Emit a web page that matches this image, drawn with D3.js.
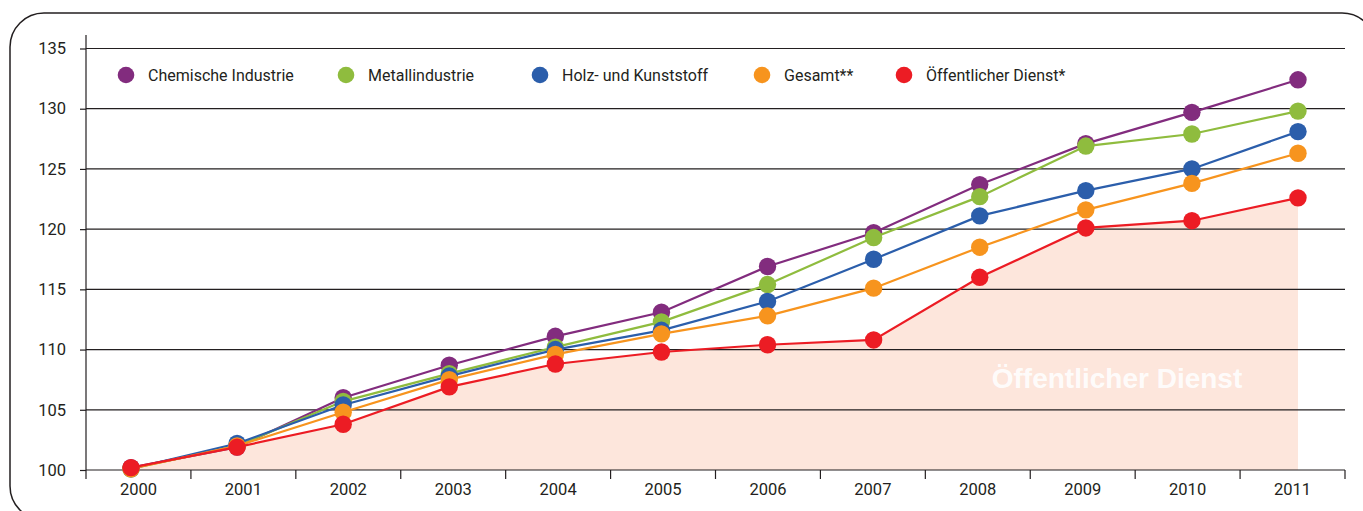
<!DOCTYPE html>
<html>
<head>
<meta charset="utf-8">
<script src="https://cdn.jsdelivr.net/npm/d3@7"></script>
<style>
  body { margin: 0; background: #fff; }
  text { font-family: Roboto, "Liberation Sans", sans-serif; fill: #231f20; }
</style>
</head>
<body>
<div id="chart"></div>
<script>
// chart size
var svgWidth = 1363;
var svgHeight = 511;

// data
var years = ["2000", "2001", "2002", "2003", "2004", "2005", "2006", "2007", "2008", "2009", "2010", "2011"];
var seriesNames = ["Chemische Industrie", "Metallindustrie", "Holz- und Kunststoff", "Gesamt**", "Öffentlicher Dienst*"];
var chemie = [100.2, 101.9, 106.0, 108.7, 111.1, 113.1, 116.9, 119.7, 123.7, 127.1, 129.7, 132.4];
var metall = [100.1, 102.0, 105.7, 108.0, 110.2, 112.3, 115.4, 119.3, 122.7, 126.9, 127.9, 129.8];
var holz = [100.1, 102.2, 105.4, 107.8, 110.0, 111.6, 114.0, 117.5, 121.1, 123.2, 125.0, 128.1];
var gesamt = [100.1, 102.0, 104.8, 107.5, 109.6, 111.3, 112.8, 115.1, 118.5, 121.6, 123.8, 126.3];
var oeffentlich = [100.2, 101.9, 103.8, 106.9, 108.8, 109.8, 110.4, 110.8, 116.0, 120.1, 120.7, 122.6];
var yTicks = [100, 105, 110, 115, 120, 125, 130, 135];
var areaLabel = "Öffentlicher Dienst";

var colors = ["#822c7e", "#8fbc3e", "#2b5eab", "#f7941e", "#ec1c24"];
var seriesValues = [chemie, metall, holz, gesamt, oeffentlich];

var svg = d3.select("#chart")
  .append("svg")
  .attr("width", svgWidth)
  .attr("height", svgHeight);

// rounded frame
svg.append("rect")
  .attr("x", 10)
  .attr("y", 13)
  .attr("width", 1366)
  .attr("height", 507)
  .attr("rx", 34)
  .attr("fill", "none")
  .attr("stroke", "#231f20")
  .attr("stroke-width", 1.5);

// scales
var xBand = d3.scaleBand()
  .domain(years)
  .range([86, 1345]);

var xPoint = d3.scalePoint()
  .domain(years)
  .range([131, 1298]);

var yScale = d3.scaleLinear()
  .domain([100, 135])
  .range([470, 48.5]);

// area under the public service line
var area = d3.area()
  .x((d, i) => xPoint(years[i]))
  .y0(yScale(100))
  .y1(d => yScale(d));

svg.append("path")
  .datum(oeffentlich)
  .attr("d", area)
  .attr("fill", "#fde6dc");

svg.append("text")
  .attr("x", 1117)
  .attr("y", 388)
  .attr("text-anchor", "middle")
  .style("font-family", "'Liberation Sans', sans-serif")
  .style("font-weight", "bold")
  .style("font-size", "28px")
  .style("fill", "#ffffff")
  .style("fill-opacity", 0.9)
  .text(areaLabel);

// gridlines
svg.append("g")
  .selectAll("line")
  .data(yTicks)
  .enter()
  .append("line")
  .attr("x1", 86)
  .attr("x2", 1345)
  .attr("y1", d => yScale(d))
  .attr("y2", d => yScale(d))
  .attr("stroke", "#231f20")
  .attr("stroke-width", 1.2);

// y axis
var leftAxis = d3.axisLeft(yScale)
  .tickValues(yTicks)
  .tickSize(6)
  .tickPadding(14);

var yAxisG = svg.append("g")
  .attr("transform", "translate(86,0)")
  .call(leftAxis);
yAxisG.select(".domain").remove();
yAxisG.selectAll("line").attr("stroke", "#231f20").attr("stroke-width", 1.2);
yAxisG.selectAll("text").style("font-size", "16.5px").style("font-family", null);

svg.append("line")
  .attr("x1", 86).attr("x2", 86)
  .attr("y1", 35).attr("y2", 479)
  .attr("stroke", "#231f20")
  .attr("stroke-width", 1.2);

// x axis labels
var bottomAxis = d3.axisBottom(xBand)
  .tickSize(0)
  .tickPadding(13);

var xAxisG = svg.append("g")
  .attr("transform", "translate(0,470)")
  .call(bottomAxis);
xAxisG.select(".domain").remove();
xAxisG.selectAll("text").style("font-size", "16.5px").style("font-family", null);

// x tick marks on band boundaries
svg.append("g")
  .selectAll("line")
  .data(years.slice(1).concat(["end"]))
  .enter()
  .append("line")
  .attr("x1", d => d === "end" ? xBand.range()[1] : xBand(d))
  .attr("x2", d => d === "end" ? xBand.range()[1] : xBand(d))
  .attr("y1", 470)
  .attr("y2", 479)
  .attr("stroke", "#231f20")
  .attr("stroke-width", 1.2);

// series lines and dots
var line = d3.line()
  .x((d, i) => xPoint(years[i]))
  .y(d => yScale(d));

seriesValues.forEach(function (vals, s) {
  var g = svg.append("g");
  g.append("path")
    .datum(vals)
    .attr("d", line)
    .attr("fill", "none")
    .attr("stroke", colors[s])
    .attr("stroke-width", 2.2);
  g.selectAll("circle")
    .data(vals)
    .enter()
    .append("circle")
    .attr("cx", (d, i) => xPoint(years[i]))
    .attr("cy", d => yScale(d))
    .attr("r", 8.7)
    .attr("fill", colors[s]);
});

// legend
var legendX = [126, 346, 540, 762, 904];
var legend = svg.append("g");
seriesNames.forEach(function (name, s) {
  legend.append("circle")
    .attr("cx", legendX[s])
    .attr("cy", 75)
    .attr("r", 8.3)
    .attr("fill", colors[s]);
  legend.append("text")
    .attr("x", legendX[s] + 22)
    .attr("y", 81)
    .style("font-size", "16px")
    .text(name);
});
</script>
</body>
</html>
